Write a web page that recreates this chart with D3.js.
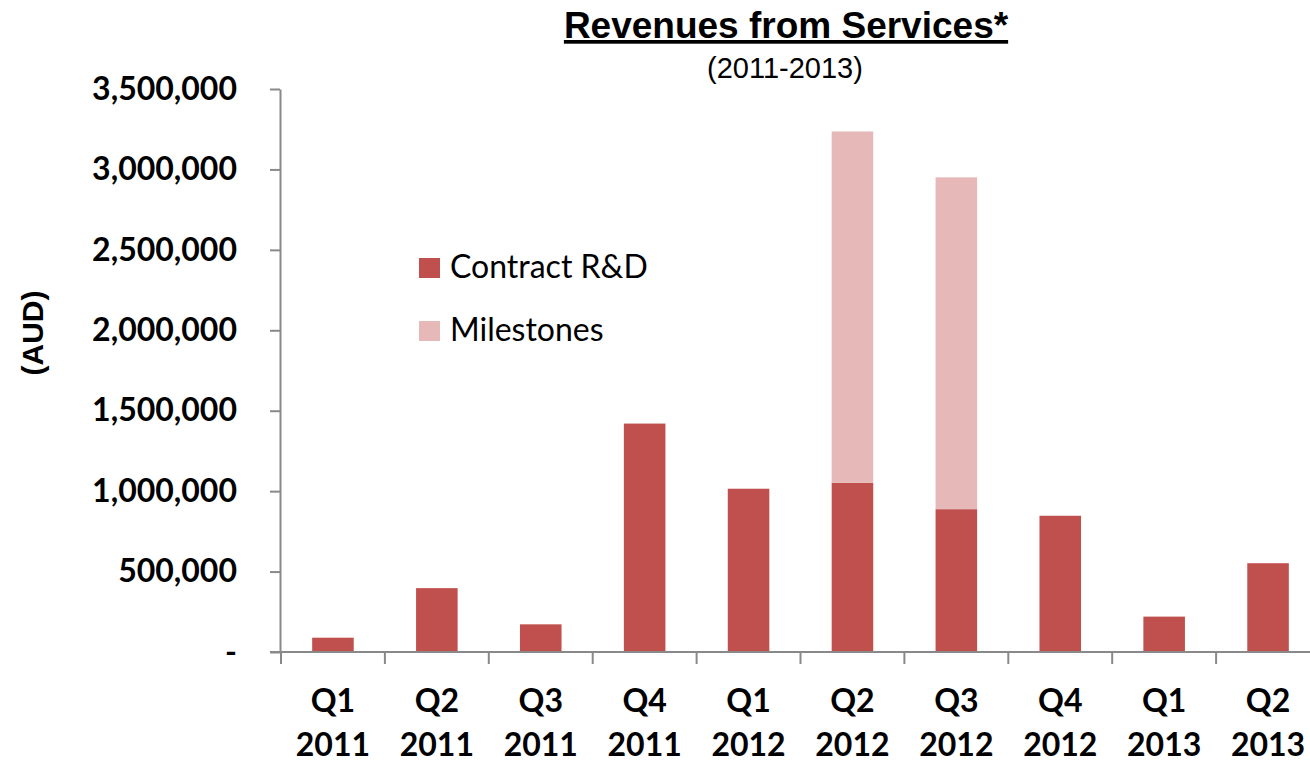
<!DOCTYPE html>
<html>
<head>
<meta charset="utf-8">
<script src="https://cdn.jsdelivr.net/npm/d3@7"></script>
<style>
  body { margin: 0; background: #fff; }
  svg { display: block; }
</style>
</head>
<body>
<div id="viz"></div>
<script>
// chart data
const quarters = ["Q1", "Q2", "Q3", "Q4", "Q1", "Q2", "Q3", "Q4", "Q1", "Q2"]
const years = ["2011", "2011", "2011", "2011", "2012", "2012", "2012", "2012", "2013", "2013"]
const contractRD = [89000, 397000, 172000, 1420000, 1015000, 1052000, 888000, 847000, 220000, 552000]
const milestones = [0, 0, 0, 0, 0, 2184000, 2063000, 0, 0, 0]
const seriesNames = ["Contract R&D", "Milestones"]
const yTicks = [0, 500000, 1000000, 1500000, 2000000, 2500000, 3000000, 3500000]

// dimensions of the svg
const width = 1310
const height = 762
const plot = {left: 281, right: 1320, top: 89, bottom: 652}

const colors = d3.scaleOrdinal().domain(seriesNames).range(["#C0504D", "#E6B9B8"])
const axisColor = "#898989"

const svg = d3.select("#viz")
    .append("svg")
    .attr("width", width)
    .attr("height", height)

// build rows for the stack
const keys = quarters.map(function(q, i) { return q + " " + years[i] })
const rows = keys.map(function(k, i) {
    return {key: k, "Contract R&D": contractRD[i], "Milestones": milestones[i]}
})
const stacked = d3.stack().keys(seriesNames)(rows)

// x transform
const x = d3.scaleBand()
    .domain(keys)
    .range([plot.left, plot.right])
    .paddingInner(0.6)
    .paddingOuter(0.3)

// y transform
const y = d3.scaleLinear()
    .domain([0, 3500000])
    .range([plot.bottom, plot.top])

// bars
svg.append("g")
    .selectAll("g")
    .data(stacked)
    .enter()
    .append("g")
    .attr("fill", function(d) { return colors(d.key) })
    .selectAll("rect")
    .data(function(d) { return d })
    .enter()
    .append("rect")
    .attr("x", function(d) { return x(d.data.key) })
    .attr("y", function(d) { return y(d[1]) })
    .attr("width", x.bandwidth())
    .attr("height", function(d) { return y(d[0]) - y(d[1]) })

// y axis
const yAxis = svg.append("g")
    .attr("transform", "translate(" + (plot.left - 1) + ",0)")
    .call(d3.axisLeft(y)
        .tickValues(yTicks)
        .tickSizeInner(10)
        .tickSizeOuter(0)
        .tickPadding(33)
        .tickFormat(function(d) { return d === 0 ? "-" : d3.format(",")(d) }))
yAxis.selectAll("line").attr("stroke", axisColor).attr("stroke-width", 2)
yAxis.select(".domain").attr("stroke", axisColor).attr("stroke-width", 2)
yAxis.selectAll("text")
    .attr("fill", "#000")
    .style("font", "bold 32px Lato")

// x axis line and boundary ticks
svg.append("line")
    .attr("x1", plot.left - 11)
    .attr("x2", width)
    .attr("y1", y(0))
    .attr("y2", y(0))
    .attr("stroke", axisColor)
    .attr("stroke-width", 2)

const step = x.step()
svg.append("g")
    .selectAll("line")
    .data(d3.range(keys.length + 1))
    .enter()
    .append("line")
    .attr("x1", function(i) { return plot.left + i * step })
    .attr("x2", function(i) { return plot.left + i * step })
    .attr("y1", y(0))
    .attr("y2", y(0) + 12)
    .attr("stroke", axisColor)
    .attr("stroke-width", 2)

// x labels, two lines each
const xLabels = svg.append("g")
    .selectAll("text")
    .data(keys)
    .enter()
    .append("text")
    .attr("text-anchor", "middle")
    .style("font", "bold 32px Lato")
    .attr("fill", "#000")
xLabels.append("tspan")
    .attr("x", function(d) { return x(d) + x.bandwidth() / 2 })
    .attr("y", 712)
    .text(function(d, i) { return quarters[i] })
xLabels.append("tspan")
    .attr("x", function(d) { return x(d) + x.bandwidth() / 2 })
    .attr("y", 756)
    .text(function(d, i) { return years[i] })

// y label
svg.append("text")
    .attr("transform", "translate(43,333)rotate(-90)")
    .attr("text-anchor", "middle")
    .style("font", "bold 30px 'Liberation Sans'")
    .text("(AUD)")

// title
svg.append("text")
    .attr("x", 786)
    .attr("y", 38)
    .attr("text-anchor", "middle")
    .style("font", "bold 37px 'Liberation Sans'")
    .style("text-decoration", "underline")
    .text("Revenues from Services*")

svg.append("text")
    .attr("x", 785)
    .attr("y", 78)
    .attr("text-anchor", "middle")
    .style("font", "29px 'Liberation Sans'")
    .text("(2011-2013)")

// legend
const legend = svg.append("g")
    .selectAll("g")
    .data(seriesNames)
    .enter()
    .append("g")
    .attr("transform", function(d, i) { return "translate(419," + (258 + i * 63) + ")" })
legend.append("rect")
    .attr("width", 21)
    .attr("height", 20)
    .attr("fill", function(d) { return colors(d) })
legend.append("text")
    .attr("x", 31)
    .attr("y", 20)
    .style("font", "32px Lato")
    .attr("fill", "#000")
    .text(function(d) { return d })
</script>
</body>
</html>
